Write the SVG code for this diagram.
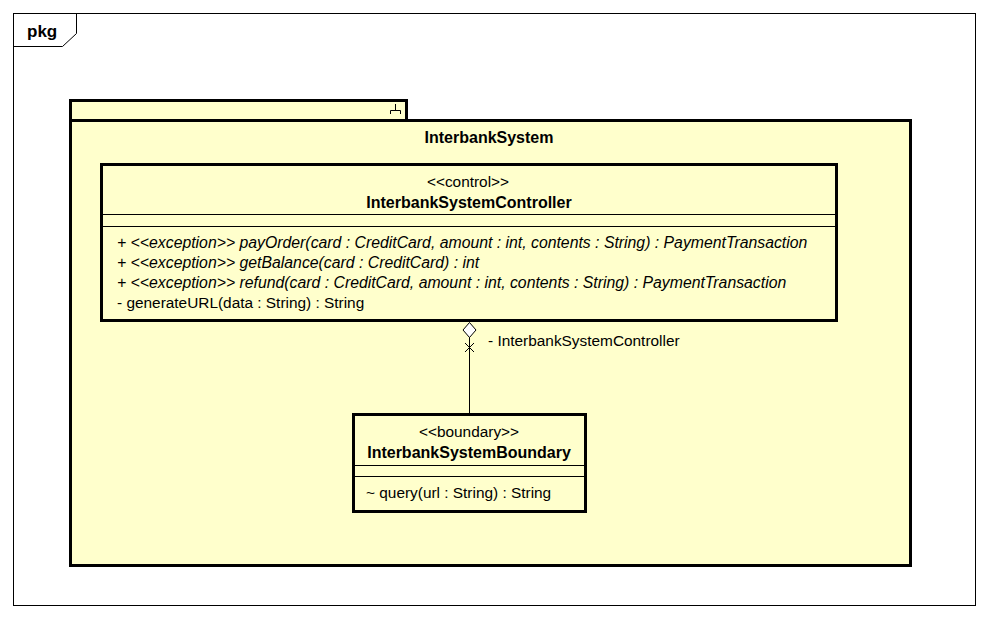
<svg xmlns="http://www.w3.org/2000/svg" width="989" height="618" viewBox="0 0 989 618">
<style>
text{font-family:"Liberation Sans",Arial,sans-serif;font-size:15.4px;fill:#000}
.b{font-weight:bold;font-size:16px}
.i{font-style:italic;font-size:15.8px}
.m{text-anchor:middle}
.box{fill:#FFFFCC;stroke:#000;stroke-width:3}
.thin{stroke:#000;stroke-width:1;fill:none}
</style>
<rect width="989" height="618" fill="#fff"/>
<g id="frame">
<rect x="13.5" y="13.5" width="962" height="592" fill="#fff" stroke="#000" stroke-width="1"/>
<path class="thin" d="M13.5 46.5 H62.5 L76.5 33.5 V13.5"/>
<text class="b" x="27" y="37" style="font-size:17px">pkg</text>
</g>
<g id="InterbankSystem">
<rect class="box" x="70.5" y="100.5" width="336" height="20"/>
<rect class="box" x="70.5" y="120.5" width="840" height="445"/>
<path class="thin" d="M395.5 104 V110.5 M390.5 114 V110.5 H400.5 V114"/>
<text class="b m" x="489" y="143">InterbankSystem</text>
</g>
<g id="InterbankSystemController">
<rect class="box" x="101.5" y="164.5" width="735" height="156"/>
<path class="thin" d="M101.5 214.5 H836.5 M101.5 226.5 H836.5"/>
<text class="m" x="468" y="187">&lt;&lt;control&gt;&gt;</text>
<text class="b m" x="469" y="208">InterbankSystemController</text>
<text class="i" x="117" y="248">+ &lt;&lt;exception&gt;&gt; payOrder(card : CreditCard, amount : int, contents : String) : PaymentTransaction</text>
<text class="i" x="117" y="268">+ &lt;&lt;exception&gt;&gt; getBalance(card : CreditCard) : int</text>
<text class="i" x="117" y="288">+ &lt;&lt;exception&gt;&gt; refund(card : CreditCard, amount : int, contents : String) : PaymentTransaction</text>
<text x="117" y="308">- generateURL(data : String) : String</text>
</g>
<g id="InterbankSystemBoundary">
<rect class="box" x="353.5" y="414.5" width="232" height="97"/>
<path class="thin" d="M353.5 465.5 H585.5 M353.5 476.5 H585.5"/>
<text class="m" x="469" y="437">&lt;&lt;boundary&gt;&gt;</text>
<text class="b m" x="469" y="458">InterbankSystemBoundary</text>
<text x="366" y="498">~ query(url : String) : String</text>
</g>
<g id="connectors">
<path class="thin" d="M469.5 337 V413"/>
<path d="M469.5 322.5 L476 330 L469.5 337.5 L463 330 Z" fill="#fff" stroke="#000" stroke-width="1"/>
<path class="thin" d="M465 343 L474 352 M474 343 L465 352"/>
<text x="488" y="346">- InterbankSystemController</text>
</g>
</svg>
